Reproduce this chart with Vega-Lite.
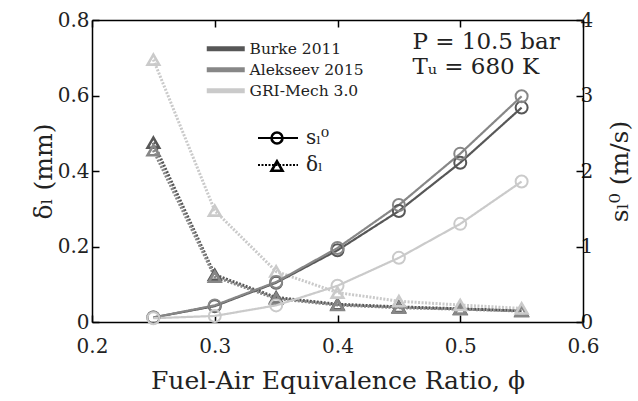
{
  "$schema": "https://vega.github.io/schema/vega-lite/v6.json",
  "width": 491,
  "height": 302,
  "autosize": {"type": "none"},
  "padding": {"left": 92, "top": 20, "right": 55, "bottom": 79},
  "config": {
    "font": "DejaVu Serif",
    "view": {"stroke": null},
    "axis": {
      "domainColor": "black", "domainWidth": 1.5,
      "tickColor": "black", "tickWidth": 1.5, "tickSize": -7,
      "labelFont": "DejaVu Serif", "labelFontSize": 20, "labelColor": "#222",
      "titleFont": "DejaVu Serif", "titleFontSize": 25, "titleFontWeight": "normal", "titleColor": "#222",
      "grid": false, "labelFlush": false
    },
    "legend": {"padding": 0, "labelFont": "DejaVu Serif", "labelColor": "#222"}
  },
  "data": {"values": [
    {"phi": 0.25, "mech": "Burke 2011", "sL": 0.06, "dL": 0.475},
    {"phi": 0.30, "mech": "Burke 2011", "sL": 0.21, "dL": 0.125},
    {"phi": 0.35, "mech": "Burke 2011", "sL": 0.52, "dL": 0.065},
    {"phi": 0.40, "mech": "Burke 2011", "sL": 0.95, "dL": 0.047},
    {"phi": 0.45, "mech": "Burke 2011", "sL": 1.47, "dL": 0.040},
    {"phi": 0.50, "mech": "Burke 2011", "sL": 2.11, "dL": 0.035},
    {"phi": 0.55, "mech": "Burke 2011", "sL": 2.84, "dL": 0.030},
    {"phi": 0.25, "mech": "Alekseev 2015", "sL": 0.06, "dL": 0.455},
    {"phi": 0.30, "mech": "Alekseev 2015", "sL": 0.22, "dL": 0.120},
    {"phi": 0.35, "mech": "Alekseev 2015", "sL": 0.53, "dL": 0.062},
    {"phi": 0.40, "mech": "Alekseev 2015", "sL": 0.98, "dL": 0.045},
    {"phi": 0.45, "mech": "Alekseev 2015", "sL": 1.55, "dL": 0.038},
    {"phi": 0.50, "mech": "Alekseev 2015", "sL": 2.23, "dL": 0.034},
    {"phi": 0.55, "mech": "Alekseev 2015", "sL": 2.99, "dL": 0.029},
    {"phi": 0.25, "mech": "GRI-Mech 3.0", "sL": 0.05, "dL": 0.695},
    {"phi": 0.30, "mech": "GRI-Mech 3.0", "sL": 0.08, "dL": 0.295},
    {"phi": 0.35, "mech": "GRI-Mech 3.0", "sL": 0.22, "dL": 0.134},
    {"phi": 0.40, "mech": "GRI-Mech 3.0", "sL": 0.48, "dL": 0.078},
    {"phi": 0.45, "mech": "GRI-Mech 3.0", "sL": 0.85, "dL": 0.055},
    {"phi": 0.50, "mech": "GRI-Mech 3.0", "sL": 1.30, "dL": 0.045},
    {"phi": 0.55, "mech": "GRI-Mech 3.0", "sL": 1.86, "dL": 0.036}
  ]},
  "layer": [
    {
      "encoding": {
        "x": {"field": "phi", "type": "quantitative", "scale": {"domain": [0.2, 0.6]},
          "axis": {"orient": "bottom", "values": [0.2, 0.3, 0.4, 0.5, 0.6], "format": "~g", "title": "Fuel-Air Equivalence Ratio, ϕ", "labelPadding": 21, "titlePadding": 12}},
        "y": {"field": "dL", "type": "quantitative", "scale": {"domain": [0, 0.8]},
          "axis": {"orient": "left", "values": [0, 0.2, 0.4, 0.6, 0.8], "format": "~g", "title": "δₗ (mm)", "labelPadding": 10, "titlePadding": 1}},
        "color": {"field": "mech", "type": "nominal",
          "scale": {"domain": ["Burke 2011", "Alekseev 2015", "GRI-Mech 3.0"], "range": ["#575757", "#878787", "#cacaca"]},
          "legend": {"title": null, "orient": "none", "legendX": 126, "legendY": 21, "symbolType": "M-3.8,0H3.8", "symbolSize": 100, "symbolStrokeWidth": 5, "labelFontSize": 15.5, "labelOffset": 16, "rowPadding": 0}}
      },
      "layer": [
        {"mark": {"type": "line", "strokeWidth": 3},
         "encoding": {"strokeDash": {"datum": "δₗ", "scale": {"domain": ["sₗ⁰", "δₗ"], "range": [[1, 0], [2, 1.5]]},
           "legend": {"title": null, "orient": "none", "legendX": 176, "legendY": 108, "symbolType": "M-4,0H4", "symbolSize": 100, "symbolStrokeWidth": 2, "symbolStrokeColor": "black", "labelFontSize": 20, "labelOffset": 18, "rowPadding": 7}}}},
        {"mark": {"type": "point", "filled": false, "strokeWidth": 2.6, "size": 135, "opacity": 1},
         "encoding": {"shape": {"datum": "t", "scale": {"domain": ["c", "t"], "range": ["circle", "triangle-up"]},
           "legend": {"title": null, "orient": "none", "legendX": 175, "legendY": 108, "symbolSize": 120, "symbolStrokeWidth": 2.6, "symbolStrokeColor": "black", "symbolFillColor": "white", "labelFontSize": 20, "labelOpacity": 0, "rowPadding": 7, "zindex": 2}}}}
      ]
    },
    {
      "encoding": {
        "x": {"field": "phi", "type": "quantitative", "scale": {"domain": [0.2, 0.6]},
          "axis": {"orient": "top", "values": [0.2, 0.3, 0.4, 0.5, 0.6], "labels": false, "title": null}},
        "y": {"field": "sL", "type": "quantitative", "scale": {"domain": [0, 4]},
          "axis": {"orient": "right", "values": [0, 1, 2, 3, 4], "format": "~g", "title": "sₗ⁰ (m/s)", "titleAngle": 270, "titleBaseline": "top", "labelPadding": 4, "titlePadding": 15}},
        "color": {"field": "mech", "type": "nominal"}
      },
      "layer": [
        {"mark": {"type": "line", "strokeWidth": 2.2},
         "encoding": {"strokeDash": {"datum": "sₗ⁰"}}},
        {"mark": {"type": "point", "filled": false, "strokeWidth": 2, "size": 144, "opacity": 1},
         "encoding": {"shape": {"datum": "c"}}}
      ]
    },
    {
      "data": {"values": [
        {"phi": 0.461, "dL": 0.742, "label": "P = 10.5 bar"},
        {"phi": 0.461, "dL": 0.675, "label": "Tᵤ = 680 K"}
      ]},
      "mark": {"type": "text", "align": "left", "baseline": "middle", "fontSize": 23, "font": "DejaVu Serif", "color": "#222"},
      "encoding": {
        "x": {"field": "phi", "type": "quantitative", "scale": {"domain": [0.2, 0.6]}, "axis": null},
        "y": {"field": "dL", "type": "quantitative", "scale": {"domain": [0, 0.8]}, "axis": null},
        "text": {"field": "label"}
      }
    }
  ],
  "resolve": {"scale": {"y": "independent"}, "axis": {"x": "independent"}}
}
